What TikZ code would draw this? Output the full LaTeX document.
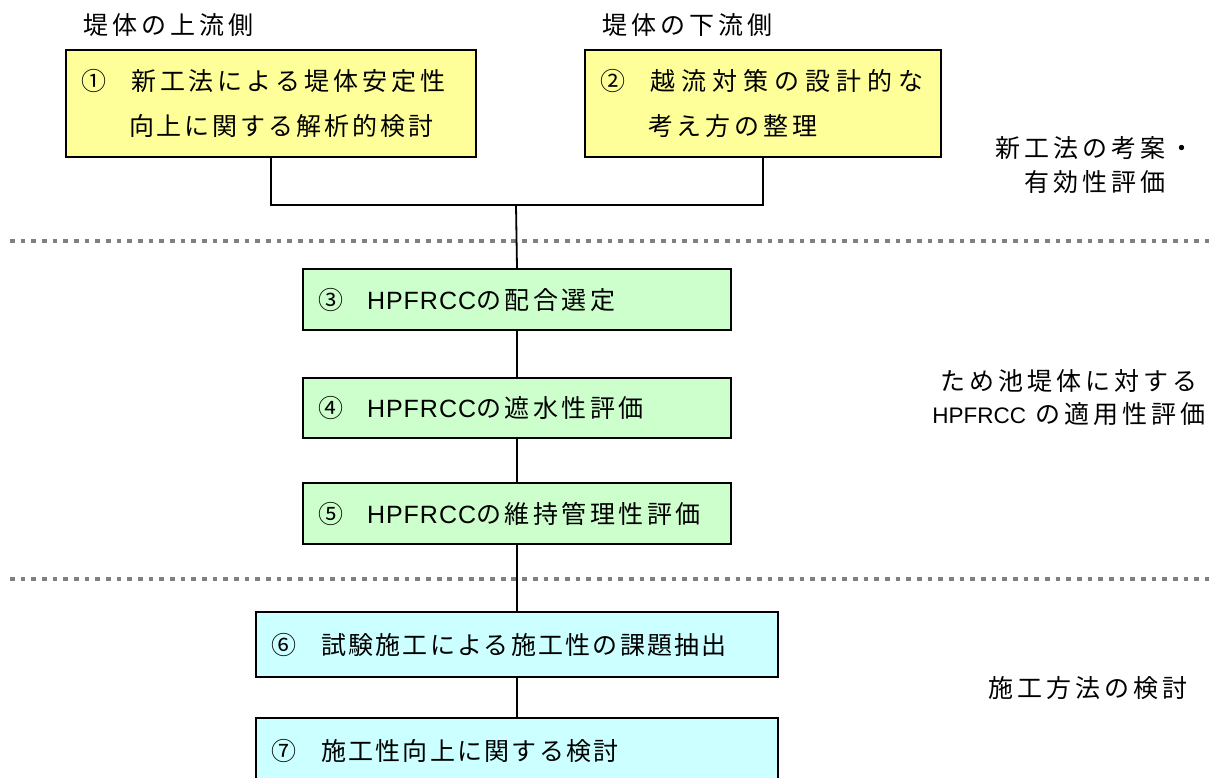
\documentclass[tikz,border=0pt]{standalone}
\usepackage{fontspec}
\newfontfamily\jp[LetterSpace=16]{Noto Sans CJK JP}
\newfontfamily\jpw[LetterSpace=24]{Noto Sans CJK JP}
\newfontfamily\jpq[LetterSpace=14]{Noto Sans CJK JP}
\newfontfamily\jpm[LetterSpace=12]{Noto Sans CJK JP}
\newfontfamily\jps[LetterSpace=9]{Noto Sans CJK JP}
\newfontfamily\lt[LetterSpace=4]{Liberation Sans}
\newfontfamily\ltn[Scale=0.9]{Liberation Sans}
\definecolor{yel}{HTML}{FFFF99}
\definecolor{grn}{HTML}{CCFFCC}
\definecolor{cyn}{HTML}{CCFFFF}
\definecolor{dotgray}{HTML}{808080}
\begin{document}
\begin{tikzpicture}[x=1pt,y=-1pt,
  box/.style={draw=black, line width=2pt, anchor=north west, align=left,
    inner xsep=15pt, inner ysep=0pt,
    font=\jp\fontsize{25pt}{45pt}\selectfont},
  conn/.style={draw=black, line width=1.8pt},
  sep/.style={draw=dotgray, line width=4.6pt, dash pattern=on 4.7pt off 5.97pt},
  lab/.style={align=center, inner sep=0pt, font=\jp\fontsize{25pt}{34pt}\selectfont}]

\useasboundingbox (0,0) rectangle (1219,778);

% top labels
\node[lab] (tl1) at (168,25) {堤体の上流側};
\node[lab] (tl2) at (687,25) {堤体の下流側};

% boxes
\node[box, fill=yel, minimum width=402pt, text width=380pt, minimum height=107pt] (b1) at (65,49)
  {①\hspace{25pt}新工法による堤体安定性\\\hspace{48pt}{\jpm 向上に関する解析的検討}};
\node[box, fill=yel, minimum width=356pt, text width=326pt, minimum height=107pt] (b2) at (584,49)
  {②\hspace{25pt}{\jpw 越流対策の設計的な}\\\hspace{48pt}考え方の整理};
\node[box, fill=grn, minimum width=428pt, text width=398pt, minimum height=61pt] (b3) at (302,268)
  {③\hspace{24pt}{\lt HPFRCC}{\jpq の配合選定}};
\node[box, fill=grn, minimum width=428pt, text width=398pt, minimum height=60pt] (b4) at (302,377)
  {④\hspace{24pt}{\lt HPFRCC}{\jpq の遮水性評価}};
\node[box, fill=grn, minimum width=428pt, text width=398pt, minimum height=61pt] (b5) at (302,482)
  {⑤\hspace{24pt}{\lt HPFRCC}{\jpq の維持管理性評価}};
\node[box, fill=cyn, minimum width=522pt, text width=492pt, minimum height=65pt] (b6) at (255,611)
  {⑥\hspace{25pt}{\jps 試験施工による施工性の課題抽出}};
\node[box, fill=cyn, minimum width=522pt, text width=492pt, minimum height=65pt] (b7) at (255,717)
  {⑦\hspace{25pt}{\jps 施工性向上に関する検討}};

% right labels
\node[lab] (r1) at (1095,165) {新工法の考案・\\有効性評価};
\node[lab, font=\jp\fontsize{25pt}{33pt}\selectfont] (r2) at (1069,398) {ため池堤体に対する\\{\ltn HPFRCC} の適用性評価};
\node[lab] (r3) at (1088,688) {施工方法の検討};

% separators
\coordinate (s1a) at (10,241);
\coordinate (s1b) at (1209,241);
\coordinate (s2a) at (10,579);
\coordinate (s2b) at (1209,579);
\draw[sep] (s1a) -- (s1b);
\draw[sep] (s2a) -- (s2b);

% connectors
\coordinate (j) at (516,205);
\draw[conn] (b1.south) |- (j) -| (b2.south);
\draw[conn] (j) -- (b3.north);
\draw[conn] (b3.south) -- (b4.north);
\draw[conn] (b4.south) -- (b5.north);
\draw[conn] (b5.south) -- (b6.north);
\draw[conn] (b6.south) -- (b7.north);
\end{tikzpicture}
\end{document}
